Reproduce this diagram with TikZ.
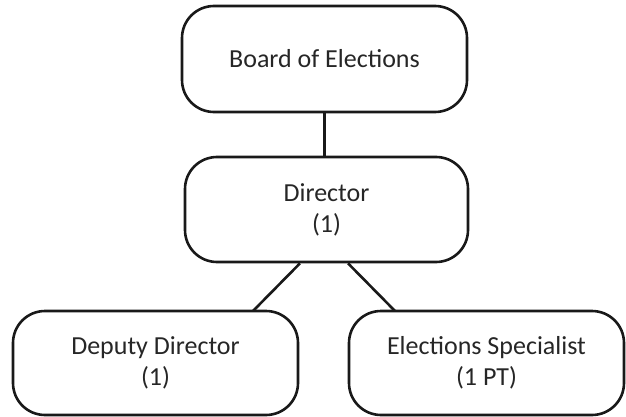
\documentclass[tikz,border=0pt]{standalone}
\usepackage{fontspec}
\setmainfont{Carlito}
\begin{document}
\begin{tikzpicture}[x=1pt,y=-1pt,
  box/.style={draw=black!90, line width=2.6pt, rounded corners=32pt, text=black!85,
    align=center, font=\fontsize{26}{31}\selectfont, inner sep=0pt},
  link/.style={draw=black!90, line width=2.6pt}]
\useasboundingbox (0,0) rectangle (626,417);
\node[box, minimum width=285pt, minimum height=106pt] (board) at (324.5,59) {Board of Elections};
\node[box, minimum width=283pt, minimum height=105pt] (dir) at (326.5,209.5) {Director\\(1)};
\node[box, minimum width=285pt, minimum height=104pt] (dep) at (155.5,363) {Deputy Director\\(1)};
\node[box, minimum width=275pt, minimum height=104pt] (spec) at (486.5,363) {Elections Specialist\\(1 PT)};
\path[link] (board.south) -- (board.south |- dir.north);
\path[link] ([xshift=-26.5pt]dir.south) -- (253,311) coordinate (depTop);
\path[link] ([xshift=21.5pt]dir.south) -- (395,311) coordinate (specTop);
\end{tikzpicture}
\end{document}
